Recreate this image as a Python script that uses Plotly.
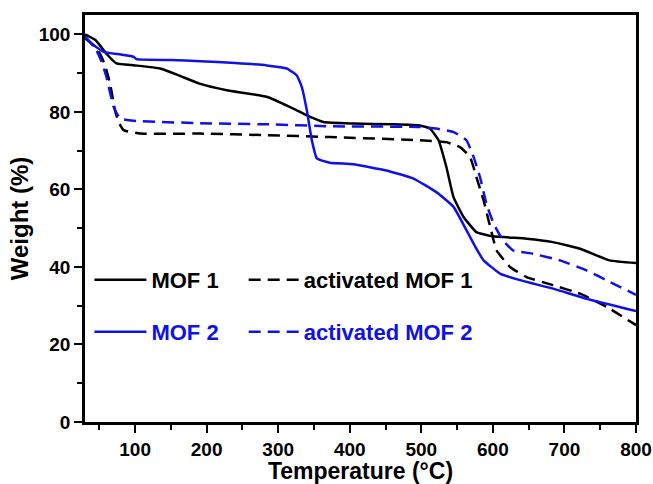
import plotly.graph_objects as go

mof1_x = [30, 45, 60, 74, 100, 135, 160, 190, 228, 284, 316, 340, 363, 405, 460, 498, 512, 524, 535, 545, 559, 577, 600, 647, 684, 722, 763, 800]
mof1_y = [100, 98.5, 95, 92.5, 92, 91.2, 89.5, 87.3, 85.6, 83.9, 81.3, 79.1, 77.4, 77, 76.8, 76.5, 75.7, 72.7, 65.8, 58, 52.9, 49, 47.9, 47.3, 46.4, 44.7, 41.7, 41]

mof2_x = [30, 40, 56, 80, 98, 102, 150, 191, 240, 284, 312, 326, 333, 340, 347, 354, 372, 405, 451, 489, 521, 545, 563, 577, 587, 610, 638, 684, 731, 800]
mof2_y = [99.3, 97.5, 95.5, 94.8, 94.2, 93.6, 93.4, 93.1, 92.6, 92, 91.2, 89.4, 86.4, 80.4, 72.7, 68, 66.9, 66.5, 64.9, 62.8, 59.3, 55.5, 49.5, 44.7, 41.7, 38.3, 36.6, 34.4, 31.8, 28.6]

act1_x = [30, 40, 51, 58, 65, 72, 77, 84, 107, 191, 284, 372, 498, 535, 554, 568, 577, 587, 594, 601, 605, 624, 647, 684, 722, 759, 800]
act1_y = [99, 97.5, 95, 92, 87.3, 80.4, 77.4, 75.3, 74.4, 74.4, 74, 73.5, 72.7, 72.2, 70.9, 68.4, 63.2, 57.2, 52, 46.9, 44.3, 40, 37.4, 35.3, 33.1, 29.7, 25]

act2_x = [30, 38, 46, 53, 60, 70, 79, 98, 191, 284, 372, 498, 521, 545, 563, 573, 582, 591, 601, 614, 628, 656, 694, 731, 764, 800]
act2_y = [99.5, 97.8, 95.9, 93, 89, 81.3, 78.3, 77.7, 77.1, 76.8, 76.3, 76.1, 75.7, 74.8, 72.7, 68.4, 63.2, 56.3, 51.2, 46.9, 44.3, 43.4, 41.7, 39.1, 36.1, 32.8]

x_ticks = [100, 200, 300, 400, 500, 600, 700, 800]
y_ticks = [0, 20, 40, 60, 80, 100]

BLACK = "#000000"
BLUE = "#1010E8"
FONT = "Arial, Liberation Sans, sans-serif"
DASH = "12px,7px"
SMOOTH = 0.4

fig = go.Figure()
fig.add_trace(go.Scatter(x=mof1_x, y=mof1_y, mode="lines", name="MOF 1", showlegend=True,
                         line=dict(color=BLACK, width=2.5, shape="spline", smoothing=SMOOTH),
                         legend="legend"))
fig.add_trace(go.Scatter(x=act1_x, y=act1_y, mode="lines", name="activated MOF 1", showlegend=True,
                         line=dict(color=BLACK, width=2.5, dash=DASH, shape="spline", smoothing=SMOOTH),
                         legend="legend2"))
fig.add_trace(go.Scatter(x=mof2_x, y=mof2_y, mode="lines", name="MOF 2", showlegend=True,
                         line=dict(color=BLUE, width=2.5, shape="spline", smoothing=SMOOTH),
                         legend="legend3"))
fig.add_trace(go.Scatter(x=act2_x, y=act2_y, mode="lines", name="activated MOF 2", showlegend=True,
                         line=dict(color=BLUE, width=2.5, dash=DASH, shape="spline", smoothing=SMOOTH),
                         legend="legend4"))

axis_common = dict(showline=True, linecolor="black", linewidth=2.5, mirror=True,
                   showgrid=False, zeroline=False, ticks="outside", ticklen=8, tickwidth=2,
                   tickcolor="black", automargin=False,
                   tickfont=dict(family=FONT, size=19, color="black", weight="bold"))

fig.update_xaxes(range=[30, 800], tickvals=x_ticks,
                 minor=dict(ticks="outside", ticklen=5, tickwidth=2, dtick=50, tick0=0, tickcolor="black"),
                 title=dict(text="Temperature (°C)", font=dict(family=FONT, size=23, color="black", weight="bold"),
                            standoff=3),
                 **axis_common)
fig.update_yaxes(range=[0, 105], tickvals=y_ticks,
                 minor=dict(ticks="outside", ticklen=5, tickwidth=2, dtick=10, tick0=0, tickcolor="black"),
                 title=dict(text="Weight (%)", font=dict(family=FONT, size=24, color="black", weight="bold"),
                            standoff=4),
                 **axis_common)

def leg(x, y, color, iw):
    return dict(x=x, y=y, xanchor="left", yanchor="middle", orientation="h",
                bgcolor="rgba(0,0,0,0)", itemwidth=iw,
                font=dict(family=FONT, size=22, color=color, weight="bold"))

fig.update_layout(
    width=653, height=484,
    margin=dict(l=85, r=17, t=15, b=62),
    paper_bgcolor="white", plot_bgcolor="white",
    showlegend=True,
    legend=leg(0.008, 0.349, BLACK, 52),
    legend2=leg(0.288, 0.349, BLACK, 50),
    legend3=leg(0.008, 0.221, BLUE, 52),
    legend4=leg(0.288, 0.221, BLUE, 50),
)

fig.write_html("out.html", config={"displayModeBar": False},
               post_script="document.body.style.margin='0';")
